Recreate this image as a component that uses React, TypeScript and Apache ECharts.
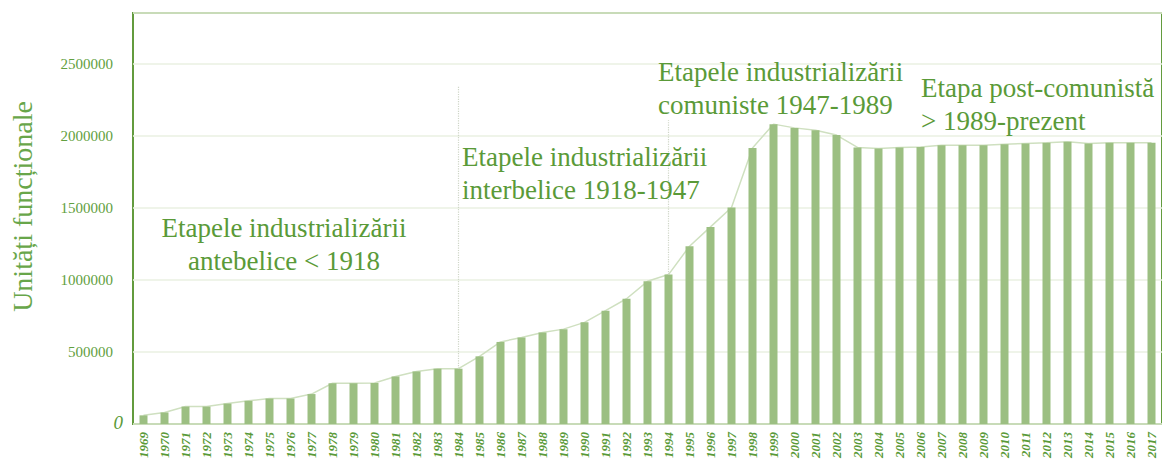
import React, { useEffect, useRef } from "react";
import * as echarts from "echarts";

const years = [
  "1969", "1970", "1971", "1972", "1973", "1974", "1975", "1976", "1977", "1978",
  "1979", "1980", "1981", "1982", "1983", "1984", "1985", "1986", "1987", "1988",
  "1989", "1990", "1991", "1992", "1993", "1994", "1995", "1996", "1997", "1998",
  "1999", "2000", "2001", "2002", "2003", "2004", "2005", "2006", "2007", "2008",
  "2009", "2010", "2011", "2012", "2013", "2014", "2015", "2016", "2017",
];

const units = [
  60000, 80000, 121000, 121000, 142000, 161000, 177000, 177000, 208000, 283000,
  283000, 285000, 330000, 365000, 384000, 384000, 470000, 570000, 601000, 636000,
  659000, 706000, 787000, 870000, 991000, 1038000, 1235000, 1369000, 1504000, 1918000,
  2083000, 2057000, 2041000, 2007000, 1921000, 1914000, 1921000, 1925000, 1937000, 1937000,
  1937000, 1944000, 1949000, 1953000, 1960000, 1949000, 1953000, 1953000, 1953000,
];

const yTicks = [0, 500000, 1000000, 1500000, 2000000, 2500000];

const stageNotes = [
  { text: "Etapele industrializării\nantebelice < 1918", x: 284, y: 211, align: "center" },
  { text: "Etapele industrializării\ninterbelice 1918-1947", x: 462, y: 140, align: "left" },
  { text: "Etapele industrializării\ncomuniste 1947-1989", x: 658, y: 55, align: "left" },
  { text: "Etapa post-comunistă\n> 1989-prezent", x: 921, y: 71, align: "left" },
];

const separators = [
  { year: "1984", from: 384000, to: 2350000 },
  { year: "1994", from: 1038000, to: 2110000 },
];

const GREEN_TEXT = "#5a9a38";
const SERIF = "Liberation Serif";

export default function App() {
  const ref = useRef<HTMLDivElement>(null);
  useEffect(() => {
    if (!ref.current) return;
    const chart = echarts.init(ref.current, null, { renderer: "svg" });
    chart.setOption({
      animation: false,
      backgroundColor: "#ffffff",
      grid: {
        left: 131,
        top: 13,
        bottom: 42,
        right: -8,
        show: true,
        borderColor: "#639b3e",
        borderWidth: 2,
        backgroundColor: "transparent",
      },
      xAxis: {
        type: "category",
        data: years,
        axisLine: { show: false },
        axisTick: { show: false },
        axisLabel: {
          interval: 0,
          rotate: 90,
          fontSize: 13,
          fontWeight: "bold",
          fontStyle: "italic",
          fontFamily: SERIF,
          color: GREEN_TEXT,
          margin: 8,
        },
      },
      yAxis: {
        type: "value",
        min: 0,
        max: 2855000,
        interval: 500000,
        name: "Unități funcționale",
        nameLocation: "middle",
        nameGap: 97,
        nameTextStyle: {
          fontSize: 28,
          fontFamily: SERIF,
          color: "#68a64a",
          padding: [0, 0, 0, 24],
        },
        axisLine: { show: false },
        axisTick: { show: false },
        splitLine: { show: true, lineStyle: { color: "#eaf1e2", width: 1.5 } },
        axisLabel: {
          margin: 20,
          fontFamily: SERIF,
          fontSize: 15,
          color: "#62a040",
          formatter: (v: number) => {
            if (v === 0) return "{zero|0}";
            return yTicks.includes(v) ? String(v) : "";
          },
          rich: {
            zero: {
              fontSize: 19,
              fontStyle: "italic",
              fontFamily: SERIF,
              color: "#5a9a38",
              padding: [0, -10, 4, 0],
            },
          },
        },
      },
      series: [
        {
          type: "line",
          data: units,
          symbol: "none",
          z: 1,
          lineStyle: { color: "#cfe0c0", width: 1.5 },
          markLine: {
            silent: true,
            symbol: "none",
            label: { show: false },
            lineStyle: { color: "#cfd6c8", type: "dotted", width: 1.2 },
            data: separators.map((s) => [
              { coord: [s.year, s.from] },
              { coord: [s.year, s.to] },
            ]),
          },
        },
        {
          type: "bar",
          data: units,
          barWidth: 8,
          z: 2,
          itemStyle: { color: "#9cbf82" },
        },
      ],
      graphic: stageNotes.map((n) => ({
        type: "text",
        x: n.x,
        y: n.y,
        z: 10,
        style: {
          text: n.text,
          fill: GREEN_TEXT,
          fontSize: 27,
          fontFamily: SERIF,
          lineHeight: 33,
          textAlign: n.align,
          textVerticalAlign: "top",
        },
      })),
    });
    return () => chart.dispose();
  }, []);
  return (
    <div
      ref={ref}
      style={{ position: "absolute", left: 0, top: 0, width: 1162, height: 466, overflow: "hidden" }}
    />
  );
}
